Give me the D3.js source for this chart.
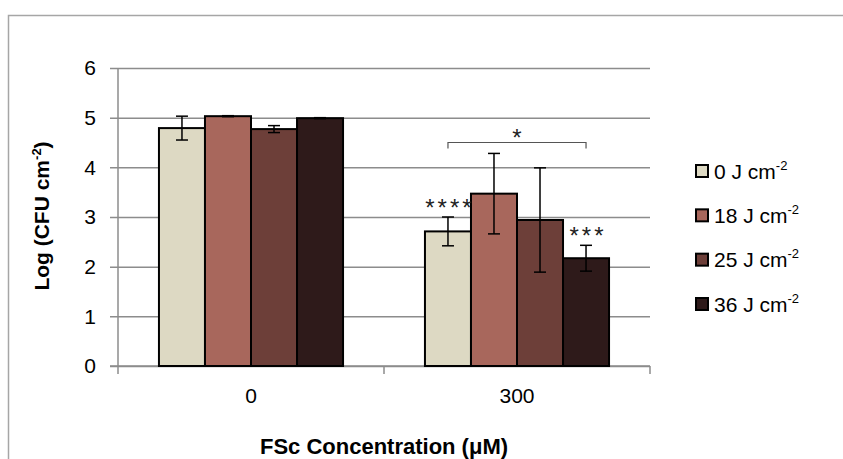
<!DOCTYPE html>
<html>
<head>
<meta charset="utf-8">
<script src="https://cdn.jsdelivr.net/npm/d3@7"></script>
<style>
  body { margin: 0; background: #fff; }
  svg { display: block; font-family: "Liberation Sans", Arial, sans-serif; }
</style>
</head>
<body>
<svg id="chart" width="843" height="459"></svg>
<script>
// concentrations on the x axis, one bar per fluence inside each group
var concentrations = ['0', '300'];
var fluences = ['0', '18', '25', '36'];
var barColors = ['#ddd9c3', '#a8675c', '#6d3f39', '#2e1a1a'];

// means[series][group], errs[series][group]
var means = [
    [4.79, 2.71],
    [5.03, 3.47],
    [4.77, 2.94],
    [4.99, 2.17]
];
var errs = [
    [0.24, 0.29],
    [0.01, 0.81],
    [0.07, 1.05],
    [0.01, 0.26]
];
// significance marks over bars (series, group, label)
var starMarks = [
    { series: 0, group: '300', label: '****' },
    { series: 3, group: '300', label: '***' }
];
// bracket between two bars of the 300 group
var bracket = { group: '300', from: 0, to: 3, level: 4.5, drop: 0.12, label: '*' };
var yTicks = [0, 1, 2, 3, 4, 5, 6];

var svg = d3.select('#chart');
var plotLeft = 118, plotRight = 650, plotTop = 68, plotBottom = 366;

var x0 = d3.scaleBand().domain(concentrations).range([plotLeft, plotRight]).paddingInner(0).paddingOuter(0);
var x1 = d3.scaleBand().domain(d3.range(fluences.length)).range([0, x0.bandwidth()])
    .paddingInner(0).paddingOuter(0.89);
var y = d3.scaleLinear().domain([0, 6]).range([plotBottom, plotTop]);

// chart frame
svg.append('path')
    .attr('d', 'M8.5,459 L8.5,15.5 L843,15.5')
    .attr('fill', 'none')
    .attr('stroke', '#a6a6a6')
    .attr('stroke-width', 1.5);

// y axis with gridlines
var yAxis = svg.append('g')
    .attr('transform', 'translate(' + plotLeft + ',0)')
    .call(d3.axisLeft(y).tickValues(yTicks).tickFormat(d3.format('d'))
        .tickSizeInner(-(plotRight - plotLeft)).tickSizeOuter(0).tickPadding(22));
yAxis.select('.domain').attr('stroke', '#8c8c8c').attr('stroke-width', 1.5).attr('d', 'M0,' + plotTop + 'V' + plotBottom);
yAxis.selectAll('.tick line')
    .attr('x1', -8)
    .attr('stroke', '#8c8c8c')
    .attr('stroke-width', 1.5);
yAxis.selectAll('.tick text')
    .attr('font-size', 21)
    .attr('fill', '#000')
    .attr('font-family', '"Liberation Sans", Arial, sans-serif');

// x axis
var xAxis = svg.append('g')
    .attr('transform', 'translate(0,' + plotBottom + ')')
    .call(d3.axisBottom(x0).tickSize(0).tickPadding(22));
xAxis.select('.domain').remove();
xAxis.append('line')
    .attr('x1', plotLeft - 8).attr('x2', plotRight)
    .attr('stroke', '#8c8c8c').attr('stroke-width', 1.5);
xAxis.selectAll('.tick text')
    .attr('font-size', 21)
    .attr('fill', '#000')
    .attr('dy', '0.71em');
// x tick marks at band edges
var edges = concentrations.map(function(c) { return x0(c); }).concat([plotRight]);
xAxis.selectAll('.edge')
    .data(edges)
    .enter().append('line')
    .attr('x1', function(d) { return d; })
    .attr('x2', function(d) { return d; })
    .attr('y1', 0).attr('y2', 8)
    .attr('stroke', '#8c8c8c').attr('stroke-width', 1.5);

// bars
var rows = [];
means.forEach(function(vals, s) {
    vals.forEach(function(v, g) {
        rows.push({ series: s, group: concentrations[g], value: v, err: errs[s][g] });
    });
});

var barX = function(d) { return x0(d.group) + x1(d.series); };
var barMid = function(d) { return barX(d) + x1.bandwidth() / 2; };

svg.append('g').selectAll('rect')
    .data(rows)
    .enter().append('rect')
    .attr('x', barX)
    .attr('y', function(d) { return y(d.value); })
    .attr('width', x1.bandwidth())
    .attr('height', function(d) { return plotBottom - y(d.value); })
    .attr('fill', function(d) { return barColors[d.series]; })
    .attr('stroke', '#000')
    .attr('stroke-width', 2);

// error bars
var capW = 6;
var eb = svg.append('g').attr('stroke', '#000').attr('stroke-width', 1.5);
rows.forEach(function(d) {
    var cx = barMid(d);
    var yt = y(d.value + d.err), yb = y(d.value - d.err);
    eb.append('line').attr('x1', cx).attr('x2', cx).attr('y1', yt).attr('y2', yb);
    eb.append('line').attr('x1', cx - capW).attr('x2', cx + capW).attr('y1', yt).attr('y2', yt);
    eb.append('line').attr('x1', cx - capW).attr('x2', cx + capW).attr('y1', yb).attr('y2', yb);
});

// stars over bars
starMarks.forEach(function(m) {
    var d = rows.find(function(r) { return r.series === m.series && r.group === m.group; });
    svg.append('text')
        .attr('x', barMid(d) + 2)
        .attr('y', y(d.value + d.err) - 1)
        .attr('text-anchor', 'middle')
        .attr('font-size', 24)
        .attr('letter-spacing', 3)
        .attr('fill', '#222')
        .text(m.label);
});

// bracket
var bx1 = x0(bracket.group) + x1(bracket.from) + x1.bandwidth() / 2;
var bx2 = x0(bracket.group) + x1(bracket.to) + x1.bandwidth() / 2;
svg.append('path')
    .attr('d', 'M' + bx1 + ',' + y(bracket.level - bracket.drop) + 'V' + y(bracket.level) +
        'H' + bx2 + 'V' + y(bracket.level - bracket.drop))
    .attr('fill', 'none')
    .attr('stroke', '#555')
    .attr('stroke-width', 1.2);
svg.append('text')
    .attr('x', (bx1 + bx2) / 2)
    .attr('y', y(bracket.level) + 3)
    .attr('text-anchor', 'middle')
    .attr('font-size', 24)
    .attr('fill', '#222')
    .text(bracket.label);

// legend
var legend = svg.append('g').attr('transform', 'translate(696,0)');
var legendY = d3.scalePoint().domain(d3.range(fluences.length)).range([171, 304]);
fluences.forEach(function(f, i) {
    var g = legend.append('g').attr('transform', 'translate(0,' + legendY(i) + ')');
    g.append('rect')
        .attr('x', 0).attr('y', -6)
        .attr('width', 12).attr('height', 12)
        .attr('fill', barColors[i])
        .attr('stroke', '#000')
        .attr('stroke-width', 2);
    var t = g.append('text')
        .attr('x', 18).attr('y', 7.5)
        .attr('font-size', 21)
        .attr('fill', '#000');
    t.append('tspan').text(f + ' J cm');
    t.append('tspan').attr('font-size', 13).attr('dy', -9).text('-2');
});

// axis titles
var yTitle = svg.append('text')
    .attr('transform', 'translate(49,216) rotate(-90)')
    .attr('text-anchor', 'middle')
    .attr('font-size', 21)
    .attr('font-weight', 'bold')
    .attr('fill', '#000');
yTitle.append('tspan').text('Log (CFU cm');
yTitle.append('tspan').attr('font-size', 13).attr('dy', -8).text('-2');
yTitle.append('tspan').attr('dy', 8).text(')');

svg.append('text')
    .attr('x', (plotLeft + plotRight) / 2)
    .attr('y', 454)
    .attr('text-anchor', 'middle')
    .attr('font-size', 22)
    .attr('font-weight', 'bold')
    .attr('fill', '#000')
    .text('FSc Concentration (μM)');
</script>
</body>
</html>
